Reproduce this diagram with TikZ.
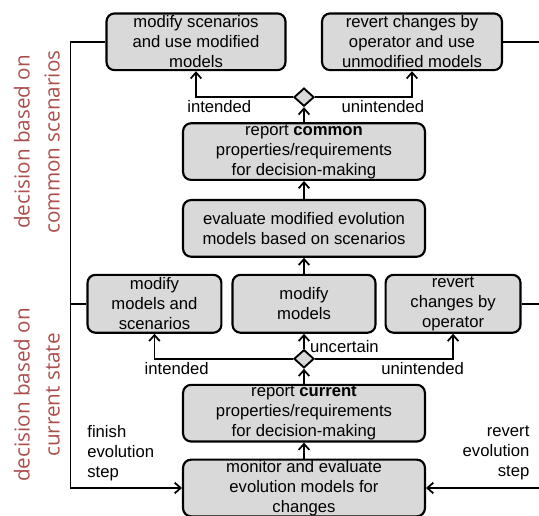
\documentclass[tikz,border=0pt]{standalone}
\usepackage{fontspec}
\setmainfont{Liberation Sans}
\newfontfamily\sidefont{Open Sans}
\usepackage{xcolor}
\usepackage{tikz}
\usetikzlibrary{shapes.geometric, arrows.meta, positioning}
\definecolor{boxgray}{RGB}{217,217,217}
\definecolor{sidered}{RGB}{172,78,76}
\tikzset{
    activity/.style={
        rectangle,
        rounded corners=6pt,
        draw=black,
        line width=1.6pt,
        minimum width=181.4pt,
        minimum height=42.5pt,
        inner xsep=1pt,
        inner ysep=0.3pt,
        align=center,
        fill=boxgray,
        font=\fontsize{12.5}{15}\selectfont
    },
    decision/.style={
        diamond,
        draw=black,
        line width=1.4pt,
        minimum width=15.1pt,
        minimum height=13.6pt,
        inner sep=0pt,
        fill=boxgray
    },
    wire/.style={
        draw=black,
        line width=1.3pt,
        -{Straight Barb[length=4.5pt,width=8pt]}
    },
    line/.style={
        draw=black,
        line width=1.3pt
    },
    lbl/.style={
        inner sep=2pt,
        font=\fontsize{12.5}{15}\selectfont
    },
    sidenote/.style={
        rotate=90,
        align=center,
        text=sidered,
        font=\sidefont\fontsize{15.5}{22.5}\selectfont
    }
}
\begin{document}
\begin{tikzpicture}[node distance=12pt and 6.5pt]
\useasboundingbox (-228pt,-21pt) rectangle (176.25pt,366pt);

% current state loop
\node[activity] (monitor) {monitor and evaluate\\evolution models for\\changes};
\node[activity, above=12pt of monitor] (report_current) {report \textbf{current}\\properties/requirements\\for decision-making};
\node[decision, above=11.25pt of report_current] (dec_current) {};
\node[activity, minimum width=107.2pt, minimum height=43.4pt, above=11.25pt of dec_current] (mod_models) {modify\\models};
\node[activity, minimum width=100.4pt, minimum height=43.4pt, left=6.75pt of mod_models] (mod_both) {modify\\models and\\scenarios};
\node[activity, minimum width=101.2pt, minimum height=43.4pt, right=6pt of mod_models] (revert_op) {revert\\changes by\\operator};

\draw[wire] (monitor) -- (report_current);
\draw[wire] (report_current) -- (dec_current);
\draw[wire] (dec_current) -- node[lbl, right, pos=0.15, xshift=2pt] {uncertain} (mod_models);
\draw[wire] (dec_current.west) -| node[lbl, below, pos=0.42] {intended} (mod_both.south);
\draw[wire] (dec_current.east) -| node[lbl, below, pos=0.39] {unintended} (revert_op.south);

% common scenarios loop
\node[activity, above=12pt of mod_models] (evaluate) {evaluate modified evolution\\models based on scenarios};
\node[activity, above=13.5pt of evaluate] (report_common) {report \textbf{common}\\properties/requirements\\for decision-making};
\node[decision, above=11.25pt of report_common] (dec_common) {};
\node[activity, minimum width=134.2pt, above=12pt of dec_common, xshift=-81pt] (mod_scen) {modify scenarios\\and use modified\\models};
\node[activity, minimum width=134.9pt, above=12pt of dec_common, xshift=81pt] (revert_use) {revert changes by\\operator and use\\unmodified models};

\draw[wire] (mod_models) -- (evaluate);
\draw[wire] (evaluate) -- (report_common);
\draw[wire] (report_common) -- (dec_common);
\draw[wire] (dec_common.west) -| node[lbl, below, pos=0.38] {intended} (mod_scen.south);
\draw[wire] (dec_common.east) -| node[lbl, below, pos=0.35] {unintended} (revert_use.south);

% back to monitoring
\coordinate[left=26.25pt of mod_scen.west] (bl_top);
\coordinate (bl_bottom) at (monitor.west -| bl_top);
\draw[wire] (mod_scen.west) -- (bl_top) |- (monitor.west);
\draw[line] (mod_both.west) -- (mod_both.west -| bl_top);
\node[lbl, align=left, right=10.5pt of bl_bottom, yshift=26.25pt] (finish_lbl) {finish\\evolution\\step};

\coordinate[right=30pt of revert_use.east] (br_top);
\coordinate (br_bottom) at (monitor.east -| br_top);
\draw[line] (revert_use.east) -- (br_top);
\draw[line] (revert_op.east) -- (revert_op.east -| br_top);
\draw[wire] (br_bottom) -- (monitor.east);
\node[lbl, align=right, left=8pt of br_bottom, yshift=26.25pt] (revert_lbl) {revert\\evolution\\step};

% side notes
\node[sidenote] (side_common) at (-200.25pt, 259.5pt) {decision based on\\common scenarios};
\node[sidenote] (side_current) at (-200.25pt, 69.75pt) {decision based on\\current state};

\end{tikzpicture}
\end{document}
